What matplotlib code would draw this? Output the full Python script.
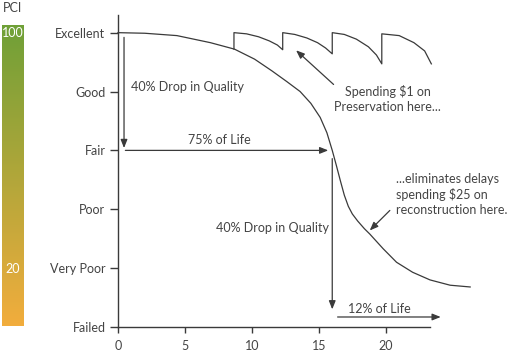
import numpy as np
import matplotlib
matplotlib.use("Agg")
import matplotlib.pyplot as plt
from matplotlib.colors import LinearSegmentedColormap

plt.rcParams["font.family"] = ["Lato", "DejaVu Sans"]

# condition levels (0 = Failed ... 5 = Excellent)
levels = ["Failed", "Very Poor", "Poor", "Fair", "Good", "Excellent"]
x_ticks = [0, 5, 10, 15, 20]

# deterioration curve without preservation (years, condition)
curve_x = [0, 2.0, 4.4, 6.9, 8.7, 10.2, 11.5, 12.6, 13.6, 14.4, 15.1, 15.6, 16.0,
           16.3, 16.6, 16.9, 17.2, 17.5, 17.9, 18.4, 18.8, 19.8, 20.8, 22.0, 23.3, 24.8, 26.3]
curve_y = [5.0, 4.99, 4.95, 4.83, 4.72, 4.55, 4.35, 4.17, 4.0, 3.80, 3.56, 3.30, 3.0,
           2.75, 2.49, 2.24, 2.05, 1.92, 1.80, 1.67, 1.58, 1.33, 1.10, 0.93, 0.80, 0.71, 0.68]

# preservation saw-tooth
pres_x = [8.66, 8.66, 9.6, 10.5, 11.3, 11.9, 12.3,
          12.3, 13.2, 14.1, 14.9, 15.5, 16.0,
          16.0, 16.9, 17.8, 18.7, 19.3, 19.7,
          19.7, 21.0, 22.1, 22.9, 23.4]
pres_y = [4.72, 5.0, 4.98, 4.93, 4.86, 4.79, 4.71,
          5.0, 4.97, 4.91, 4.83, 4.74, 4.64,
          5.0, 4.97, 4.89, 4.76, 4.62, 4.47,
          4.98, 4.95, 4.83, 4.69, 4.47]

# PCI scale labels
pci_labels = ["100", "20"]

INK = "#3a3a3a"
TXT = "#444444"
FS = 9

fig = plt.figure(figsize=(5.12, 3.54), dpi=100)

# ---- PCI colour bar ----
cax = fig.add_axes([2 / 512, 28 / 354, 22 / 512, 301 / 354])
cmap = LinearSegmentedColormap.from_list("pci", ["#f2ad3d", "#6fa037"])
cax.imshow(np.linspace(0, 1, 256)[:, None], aspect="auto", cmap=cmap,
           origin="lower", extent=[0, 1, 0, 1])
cax.set_axis_off()
cax.text(0.5, 0.975, pci_labels[0], color="white", fontsize=FS, ha="center", va="center",
         transform=cax.transAxes)
cax.text(0.5, 0.19, pci_labels[1], color="white", fontsize=FS, ha="center", va="center",
         transform=cax.transAxes)
fig.text(13 / 512, 1 - 8 / 354, "PCI", color=TXT, fontsize=FS, ha="center", va="center")

# ---- main axes ----
ax = fig.add_axes([118 / 512, 27 / 354, 312 / 512, 312 / 354])
ax.set_xlim(0, 23.3)
ax.set_ylim(0, 5.3)
for s in ["top", "right"]:
    ax.spines[s].set_visible(False)
for s in ["left", "bottom"]:
    ax.spines[s].set_color(INK)
    ax.spines[s].set_linewidth(1.0)
ax.set_yticks(range(6))
ax.set_yticklabels(levels)
ax.set_xticks(x_ticks)
ax.tick_params(axis="y", length=6, width=1.0, color=INK, labelsize=FS, labelcolor=TXT, pad=3)
ax.tick_params(axis="x", length=4, width=1.0, color=INK, labelsize=FS, labelcolor=TXT, pad=5)

ax.plot(curve_x, curve_y, color=INK, lw=0.9, clip_on=False)
ax.plot(pres_x, pres_y, color=INK, lw=0.9, clip_on=False)

arw = dict(arrowstyle="-|>,head_length=0.5,head_width=0.2", color=INK, lw=0.9,
           shrinkA=0, shrinkB=0)

# 40% drop / 75% of life
ax.annotate("", xy=(0.45, 3.04), xytext=(0.45, 4.92), arrowprops=arw)
ax.text(1.0, 4.07, "40% Drop in Quality", fontsize=FS, color=TXT, va="center")
ax.annotate("", xy=(15.7, 3.0), xytext=(0.55, 3.0), arrowprops=arw)
ax.text(7.6, 3.17, "75% of Life", fontsize=FS, color=TXT, ha="center", va="center")

# 40% drop / 12% of life
ax.annotate("", xy=(16.0, 0.3), xytext=(16.0, 2.86), arrowprops=arw)
ax.text(15.75, 1.68, "40% Drop in Quality", fontsize=FS, color=TXT, ha="right", va="center")
ax.annotate("", xy=(24.1, 0.17), xytext=(16.4, 0.17), arrowprops=arw,
            annotation_clip=False)
ax.text(19.55, 0.31, "12% of Life", fontsize=FS, color=TXT, ha="center", va="center")

# callouts
ax.text(20.15, 3.88, "Spending $1 on\nPreservation here...", fontsize=FS, color=TXT,
        ha="center", va="center", linespacing=1.3)
ax.annotate("", xy=(13.3, 4.70), xytext=(16.1, 4.12), arrowprops=arw)
ax.text(20.75, 2.25, "...eliminates delays\nspending $25 on\nreconstruction here.",
        fontsize=FS, color=TXT, ha="left", va="center", linespacing=1.25)
ax.annotate("", xy=(18.8, 1.64), xytext=(20.3, 1.98), arrowprops=arw)

fig.savefig("out.png", dpi=100)
